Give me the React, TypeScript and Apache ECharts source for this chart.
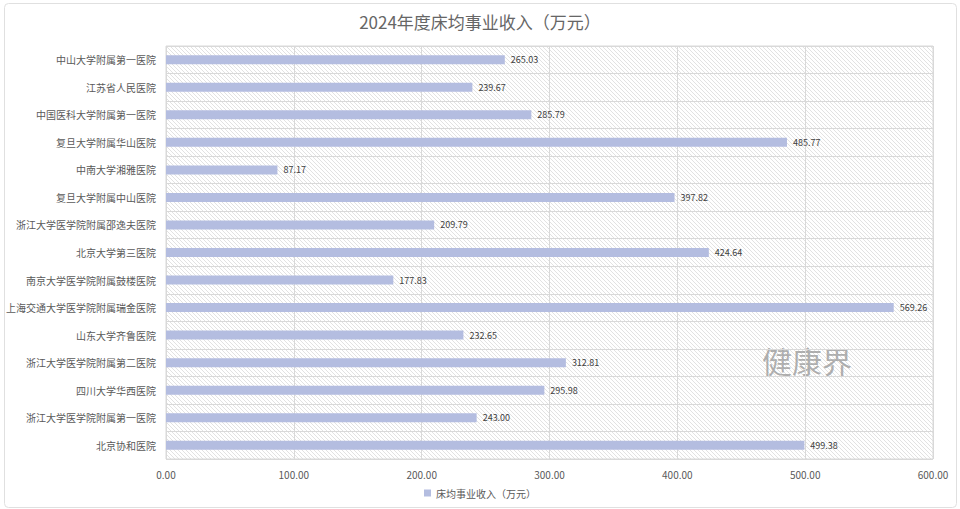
import React, { useEffect, useRef } from "react";
import * as echarts from "echarts";

const hospitals = [
  "中山大学附属第一医院",
  "江苏省人民医院",
  "中国医科大学附属第一医院",
  "复旦大学附属华山医院",
  "中南大学湘雅医院",
  "复旦大学附属中山医院",
  "浙江大学医学院附属邵逸夫医院",
  "北京大学第三医院",
  "南京大学医学院附属鼓楼医院",
  "上海交通大学医学院附属瑞金医院",
  "山东大学齐鲁医院",
  "浙江大学医学院附属第二医院",
  "四川大学华西医院",
  "浙江大学医学院附属第一医院",
  "北京协和医院",
];
const revenue = [265.03, 239.67, 285.79, 485.77, 87.17, 397.82, 209.79, 424.64, 177.83, 569.26, 232.65, 312.81, 295.98, 243.0, 499.38];
const seriesName = "床均事业收入（万元）";
const titleText = "2024年度床均事业收入（万元）";
const watermark = "健康界";

function makeHatch(): string {
  const c = document.createElement("canvas");
  c.width = 8;
  c.height = 8;
  const ctx = c.getContext("2d")!;
  ctx.fillStyle = "#ffffff";
  ctx.fillRect(0, 0, 8, 8);
  ctx.strokeStyle = "#e2e2e2";
  ctx.lineWidth = 1;
  ctx.beginPath();
  for (let k = -8; k <= 16; k += 4) {
    ctx.moveTo(k, 0);
    ctx.lineTo(k + 8, 8);
  }
  ctx.stroke();
  return c.toDataURL();
}

export default function App() {
  const ref = useRef<HTMLDivElement>(null);
  useEffect(() => {
    if (!ref.current) return;
    const chart = echarts.init(ref.current, null, { renderer: "svg" });
    const font = "'Noto Sans CJK SC', 'Noto Sans', sans-serif";
    chart.setOption({
      animation: false,
      backgroundColor: "#ffffff",
      textStyle: { fontFamily: font },
      title: {
        text: titleText,
        left: "center",
        top: 8,
        textStyle: { fontSize: 17, fontWeight: "normal", color: "#666666", fontFamily: font },
      },
      legend: {
        bottom: 6,
        left: "center",
        itemWidth: 7,
        itemHeight: 7,
        icon: "rect",
        textStyle: { fontSize: 10, color: "#595959" },
        data: [seriesName],
      },
      grid: {
        left: 166,
        right: 27,
        top: 46,
        bottom: 50,
        show: true,
        borderColor: "#d9d9d9",
        borderWidth: 1,
        backgroundColor: { image: makeHatch(), repeat: "repeat" },
      },
      xAxis: {
        type: "value",
        min: 0,
        max: 600,
        interval: 100,
        axisLine: { show: false },
        axisTick: { show: false },
        axisLabel: {
          formatter: (v: number) => v.toFixed(2),
          fontSize: 10,
          color: "#595959",
          margin: 10,
        },
        splitLine: { show: true, lineStyle: { color: "#d9d9d9", width: 1 } },
      },
      yAxis: {
        type: "category",
        inverse: true,
        data: hospitals,
        axisLine: { show: false },
        axisTick: { show: false },
        axisLabel: { fontSize: 10, color: "#595959", margin: 10 },
        splitLine: { show: true, lineStyle: { color: "#d9d9d9", width: 1 } },
      },
      series: [
        {
          name: seriesName,
          type: "bar",
          data: revenue,
          barWidth: 9,
          itemStyle: { color: "#b4bde0" },
          label: {
            show: true,
            position: "right",
            distance: 6,
            fontSize: 9,
            color: "#404040",
            formatter: (p: any) => Number(p.value).toFixed(2),
          },
        },
      ],
      graphic: [
        {
          type: "rect",
          left: 2,
          top: 1,
          shape: { width: 952, height: 504, r: 4 },
          style: { fill: "none", stroke: "#e0e0e0", lineWidth: 1 },
          silent: true,
        },
        {
          type: "text",
          left: 762,
          top: 345,
          style: { text: watermark, fontSize: 30, fill: "rgba(150,150,150,0.75)", fontFamily: font },
          silent: true,
        },
      ],
    });
    return () => chart.dispose();
  }, []);
  return <div ref={ref} style={{ position: "fixed", left: 0, top: 0, width: 960, height: 509 }} />;
}
